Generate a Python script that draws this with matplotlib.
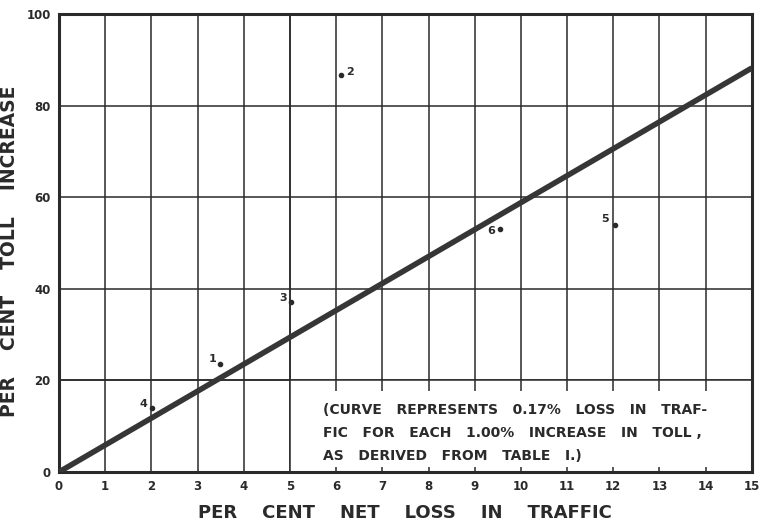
import numpy as np
import matplotlib
matplotlib.use("Agg")
import matplotlib.pyplot as plt
from matplotlib.patches import Rectangle

# observed points (per cent loss in traffic, per cent toll increase)
point_ids = ["1", "2", "3", "4", "5", "6"]
loss_pct = [3.48, 6.1, 5.02, 2.01, 12.03, 9.55]
toll_pct = [23.6, 86.7, 37.1, 14.0, 53.9, 53.0]
# label offsets (pixels) next to each dot
label_dx = [-7, 9, -8, -8, -10, -9]
label_dy = [5, 3, 4, 4, 6, -2]

# fitted curve: 0.17% loss per 1.00% toll increase
curve_loss = [0, 15]
curve_rate = 0.17

x_ticks = list(range(0, 16))
y_ticks = [0, 20, 40, 60, 80, 100]

note_lines = ["(CURVE   REPRESENTS   0.17%   LOSS   IN   TRAF-",
              "FIC   FOR   EACH   1.00%   INCREASE   IN   TOLL ,",
              "AS   DERIVED   FROM   TABLE   I.)"]
note_y = [13.5, 8.5, 3.5]

fig = plt.figure(figsize=(7.61, 5.22), dpi=100)
ax = fig.add_axes([0.0775, 0.0958, 0.9105, 0.8772])
ax.set_xlim(0, 15)
ax.set_ylim(0, 100)

ink = "#2a2a2a"

# grid
ax.set_xticks(x_ticks)
ax.set_yticks(y_ticks)
ax.grid(True, color=ink, linewidth=1.1, zorder=1)
ax.tick_params(axis="both", direction="in", length=0, pad=6,
               labelsize=8.5, colors=ink)
for lab in ax.get_xticklabels() + ax.get_yticklabels():
    lab.set_fontweight("bold")

for s in ax.spines.values():
    s.set_linewidth(2.2)
    s.set_color(ink)

# white note box over the lower right grid
ax.add_patch(Rectangle((5, 0), 10, 20, facecolor="white", edgecolor="none", zorder=2))
ax.vlines(x_ticks[6:15], 17.6, 20, color=ink, linewidth=1.1, zorder=3)
ax.vlines(x_ticks[6:15], 0, 1.0, color=ink, linewidth=1.1, zorder=3)
ax.axhline(20, color=ink, linewidth=1.1, zorder=3)
ax.axvline(5, color=ink, linewidth=1.1, zorder=3)

# curve
cx = np.array(curve_loss, dtype=float)
ax.plot(cx, cx / curve_rate, color="#363636", linewidth=4.0,
        solid_capstyle="butt", zorder=4)

# points
ax.scatter(loss_pct, toll_pct, s=9, color=ink, zorder=5)
for pid, x, y, dx, dy in zip(point_ids, loss_pct, toll_pct, label_dx, label_dy):
    ax.annotate(pid, (x, y), xytext=(dx, dy), textcoords="offset pixels",
                ha="center", va="center", fontsize=8, fontweight="bold",
                color=ink, zorder=6)

for line, ly in zip(note_lines, note_y):
    ax.text(5.72, ly, line, fontsize=10, fontweight="bold", color=ink,
            va="center", ha="left", zorder=6)

ax.set_xlabel("PER    CENT    NET    LOSS    IN    TRAFFIC", fontsize=13,
              fontweight="bold", color=ink)
ax.xaxis.set_label_coords(0.50, -0.07)
ax.set_ylabel("PER    CENT    TOLL    INCREASE", fontsize=13.5,
              fontweight="bold", color=ink)
ax.yaxis.set_label_coords(-0.057, 0.483)

fig.savefig("out.png", dpi=100)
